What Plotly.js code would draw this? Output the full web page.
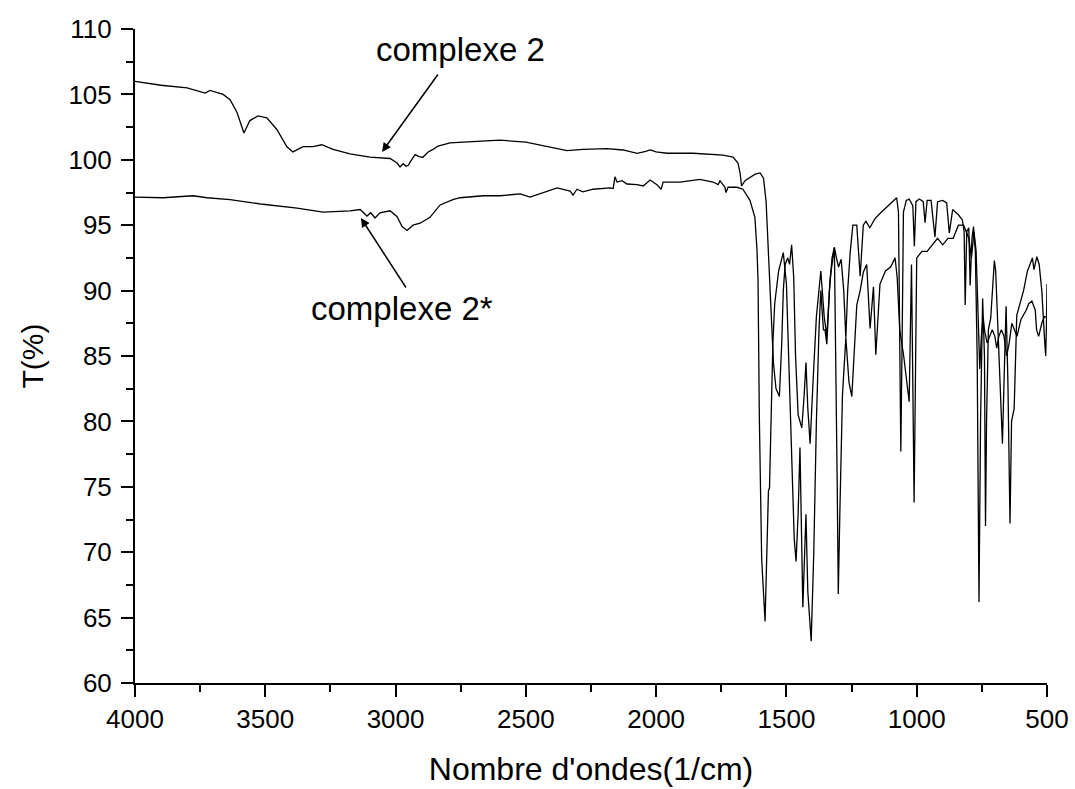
<!DOCTYPE html>
<html>
<head>
<meta charset="utf-8">
<script src="https://cdn.plot.ly/plotly-3.0.1.min.js"></script>
<style>html,body{margin:0;padding:0;background:#fff;}#chart{width:1075px;height:789px;}</style>
</head>
<body>
<div id="chart"></div>
<script>
// complexe 2 (upper trace)
const wnA = [4000,3900,3800,3762,3731,3712,3662,3635,3608,3582,3559,3528,3494,3455,3417,3394,3355,3317,3283,3240,3175,3098,3021,2994,2983,2971,2960,2950,2945,2925,2910,2895,2875,2856,2837,2791,2700,2600,2500,2420,2342,2281,2189,2127,2073,2040,2023,2000,1958,1858,1743,1705,1686,1678,1672,1659,1640,1620,1601,1588,1578,1569,1560,1550,1540,1527,1518,1512,1505,1495,1488,1480,1472,1465,1455,1441,1432,1425,1418,1409,1398,1385,1368,1355,1345,1335,1325,1316,1308,1300,1290,1280,1272,1265,1255,1245,1230,1217,1205,1195,1180,1160,1141,1110,1090,1077,1070,1061,1055,1051,1040,1029,1015,1009,1003,990,975,968,960,945,930,920,900,885,875,862,840,825,818,814,808,800,795,788,782,775,768,761,755,747,740,736,732,725,716,708,702,697,690,686,678,671,665,657,650,642,636,626,616,603,590,575,565,556,550,539,530,520,510,505,502,500];
const tA = [106.0,105.7,105.5,105.3,105.1,105.3,105.0,104.6,103.6,102.05,103.0,103.35,103.2,102.3,101.0,100.6,101.0,101.0,101.15,100.8,100.45,100.2,100.1,99.75,99.45,99.7,99.5,99.6,99.8,100.4,100.25,100.2,100.6,100.8,101.05,101.3,101.4,101.5,101.35,101.05,100.7,100.8,100.85,100.75,100.5,100.65,100.75,100.6,100.5,100.5,100.35,100.2,99.75,99.0,98.0,98.4,98.65,98.9,99.0,98.6,96.8,92.7,88.0,84.5,82.5,81.9,86,90,92.0,92.5,92.0,93.5,91,85,80.5,79.5,82,84.5,81,78.3,83,88,91.5,88,86.5,90,92.5,93.3,92.5,91.8,92.4,90,86.4,90,93,95,95,91.1,95,95.3,94.8,95.5,95.9,96.5,96.9,97.1,96,77.7,88,96,96.9,97,96.5,93.4,96.8,97,96.8,95.2,96.9,96.9,94.1,96.8,96.9,96.7,94.4,96.2,95.8,95.4,94.5,88.9,94.5,94.8,90.4,94,94.9,93,85,66.2,80,89.4,85,72.0,80,87,87.9,90.5,92.3,91.5,88,85.9,82,78.3,83,88.8,83,72.2,80,81,88.1,89,90,91.5,92,92.5,91.6,92.6,92,90,86.5,85,87.5,90.5];
// complexe 2* (lower trace)
const wnB = [4000,3892,3777,3724,3635,3509,3378,3278,3175,3136,3110,3095,3079,3060,3021,2994,2975,2956,2933,2906,2868,2829,2780,2753,2664,2599,2522,2484,2380,2330,2319,2304,2281,2242,2177,2165,2158,2150,2131,2112,2073,2050,2023,1997,1981,1973,1908,1832,1782,1762,1755,1736,1732,1724,1690,1667,1640,1621,1613,1609,1604,1595,1582,1575,1569,1565,1560,1552,1545,1530,1512,1500,1490,1478,1470,1463,1455,1448,1443,1437,1430,1425,1418,1405,1395,1385,1375,1368,1358,1352,1345,1333,1325,1316,1305,1301,1295,1285,1272,1260,1249,1243,1230,1217,1205,1192,1179,1166,1157,1141,1120,1100,1083,1075,1065,1050,1029,1020,1010,1000,980,960,940,920,900,880,860,840,820,800,790,780,772,765,758,752,745,740,730,720,710,700,693,685,675,665,655,645,635,625,615,600,580,570,558,545,540,532,520,510,500];
const tB = [97.15,97.1,97.25,97.1,96.95,96.6,96.3,96.0,96.1,96.2,95.7,95.95,95.55,95.95,96.1,95.65,94.9,94.6,95.0,95.15,95.6,96.55,96.95,97.1,97.25,97.25,97.4,97.15,97.85,97.6,97.3,97.75,97.55,97.75,97.85,97.8,98.7,98.3,98.4,98.15,98.1,98.0,98.45,98.1,97.75,98.3,98.3,98.5,98.3,98.1,98.4,97.9,97.5,97.9,97.9,97.75,96.9,95.6,93.1,90.8,80.4,69.5,64.7,70,74.7,74.9,80,86,89,91.5,92.9,90.5,84,75,71,69.3,73,78.0,72,65.8,70,72.9,67,63.2,70,80,87,90,87,87.0,85.9,90.8,92,93.3,75,66.8,73,82,86.4,83,81.9,84.3,88.9,90.0,91.4,92,87.1,90.3,85.1,90.5,91.5,91.8,92.5,91,87,85,81.5,92,73.8,92.5,93,93,93.5,94,93.5,94,94,95,95,94,92.5,94.5,93,88,84,86.5,88,87,86,86.5,87,86.5,85.6,86.5,87,86.5,85,86,87.5,87,86.5,87.8,88.5,89,89.2,88.5,87,86.5,87.5,88,88];

const xTicks = [4000,3500,3000,2500,2000,1500,1000,500];
const yTicks = [60,65,70,75,80,85,90,95,100,105,110];

const font = 'Liberation Sans, Arial, sans-serif';
const traces = [
  {x: wnA, y: tA, type: 'scatter', mode: 'lines', line: {color: '#000', width: 1.3}, name: 'complexe 2', hoverinfo: 'skip'},
  {x: wnB, y: tB, type: 'scatter', mode: 'lines', line: {color: '#000', width: 1.3}, name: 'complexe 2*', hoverinfo: 'skip'}
];
const axisCommon = {
  showgrid: false, zeroline: false, showline: true, linecolor: '#000', linewidth: 2,
  ticks: 'outside', ticklen: 12, tickwidth: 2, tickcolor: '#000',
  tickfont: {family: font, size: 26, color: '#000'}, mirror: false
};
const layout = {
  width: 1075, height: 789,
  margin: {l: 135, r: 28, t: 29, b: 106},
  paper_bgcolor: '#fff', plot_bgcolor: '#fff',
  showlegend: false,
  xaxis: Object.assign({}, axisCommon, {
    range: [4000, 500], tickmode: 'array', tickvals: xTicks, ticktext: xTicks.map(String),
    minor: {tickmode: 'linear', tick0: 500, dtick: 250, ticks: 'outside', ticklen: 7, tickwidth: 2, tickcolor: '#000', showgrid: false},
    title: {text: "Nombre d'ondes(1/cm)", font: {family: font, size: 32, color: '#000'}, standoff: 24}
  }),
  yaxis: Object.assign({}, axisCommon, {
    range: [60, 110], tickmode: 'array', tickvals: yTicks, ticktext: yTicks.map(String),
    ticklabelstandoff: 4,
    minor: {tickmode: 'linear', tick0: 60, dtick: 2.5, ticks: 'outside', ticklen: 7, tickwidth: 2, tickcolor: '#000', showgrid: false},
    title: {text: 'T(%)', font: {family: font, size: 30, color: '#000'}, standoff: 16}
  }),
  annotations: [
    {x: 2749, y: 108.4, xref: 'x', yref: 'y', text: 'complexe 2', showarrow: false, font: {family: font, size: 33, color: '#000'}},
    {x: 2975, y: 88.67, xref: 'x', yref: 'y', text: 'complexe 2*', showarrow: false, font: {family: font, size: 33, color: '#000'}},
    {x: 3052, y: 100.6, xref: 'x', yref: 'y', text: '', showarrow: true, ax: 57, ay: -79, arrowhead: 2, arrowsize: 1.2, arrowwidth: 1.5, arrowcolor: '#000'},
    {x: 3133, y: 95.55, xref: 'x', yref: 'y', text: '', showarrow: true, ax: 46, ay: 71, arrowhead: 2, arrowsize: 1.2, arrowwidth: 1.5, arrowcolor: '#000'}
  ]
};
Plotly.newPlot('chart', traces, layout, {staticPlot: true, displayModeBar: false});
</script>
</body>
</html>
